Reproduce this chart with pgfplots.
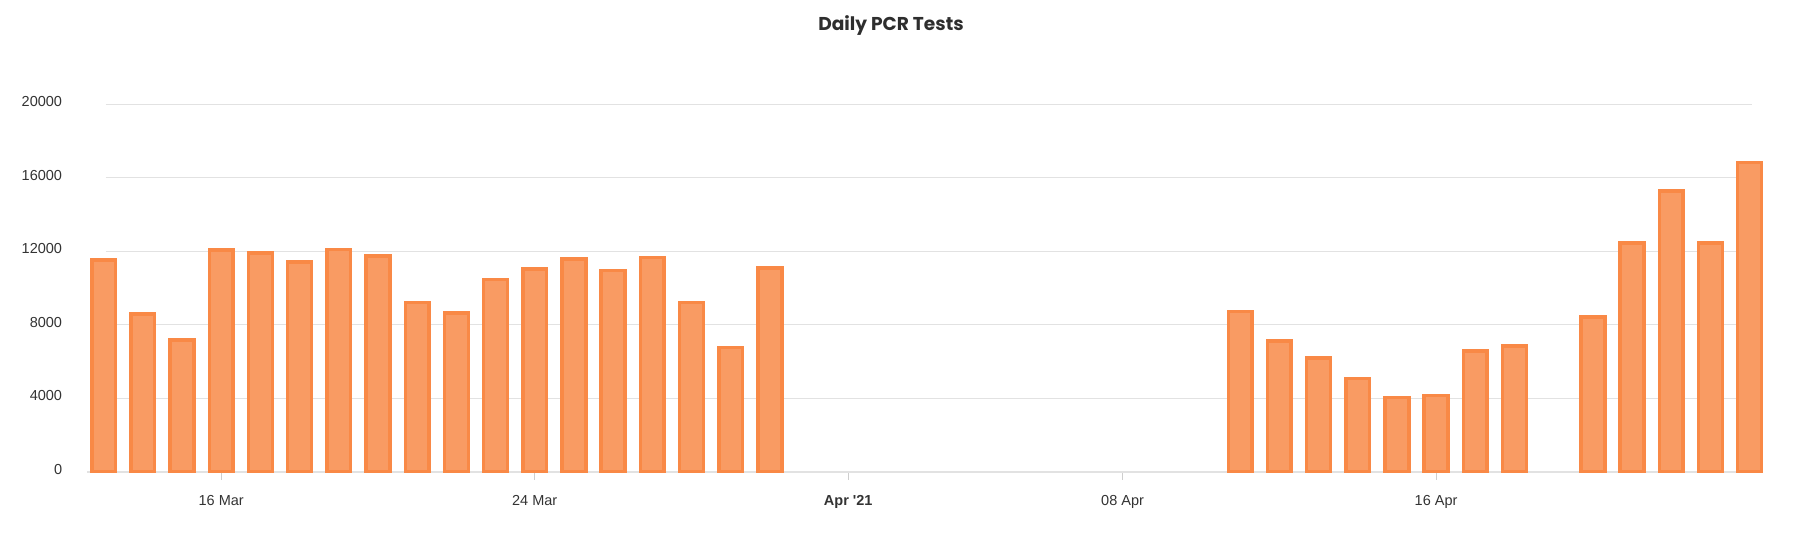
\documentclass[border=0pt]{standalone}
\usepackage{pgfplots}
\pgfplotsset{compat=1.18}
\usepackage{fontspec}
\setmainfont{Liberation Sans}
\newfontfamily\plainsans{Liberation Sans}[Ligatures=TeXOff]
\newfontfamily\poppins{Poppins}
\definecolor{barfill}{RGB}{249,155,99}
\definecolor{barline}{RGB}{249,137,70}
\definecolor{gridc}{RGB}{226,226,226}
\definecolor{txt}{RGB}{51,51,51}
\begin{document}
\begin{tikzpicture}
\useasboundingbox (0,0) rectangle (1798pt,541pt);
\node[font={\poppins\bfseries\fontsize{18.6pt}{22pt}\selectfont}, text=txt!90!black] at (891pt,515pt) {Daily PCR Tests};
\begin{axis}[
  anchor=south west, at={(87pt,69.3pt)},
  scale only axis, width=1676.3pt, height=367.4pt,
  xmin=-0.425, xmax=42.35, ymin=0, ymax=20000,
  axis x line*=bottom, axis y line*=left,
  x axis line style={draw=gridc, line width=2pt, -},
  y axis line style={draw=none},
  ytick={0,4000,8000,12000,16000,20000},
  scaled y ticks=false,
  yticklabel style={/pgf/number format/set thousands separator={}, /pgf/number format/assume math mode=true, text=txt, xshift=-13.4pt, yshift=2.5pt},
  ytick style={draw=none},
  xtick={3,11,19,26,34},
  xticklabels={16 Mar,24 Mar,{\plainsans\bfseries Apr '21},08 Apr,16 Apr},
  xticklabel style={text=txt, yshift=-11.7pt},
  x tick style={draw=gridc!80!gray, line width=1pt},
  major tick length=8pt, tick align=outside,
  ticklabel style={font=\fontsize{14.5pt}{16pt}\selectfont},
  clip=false,
]
\pgfplotsinvokeforeach{4000,8000,12000,16000,20000}{
  \draw[gridc, line width=1pt] (axis cs:0.05,#1) -- (axis cs:42.05,#1);
}
\addplot[ybar, bar width=23.8pt, fill=barfill, draw=barline, line width=3.5pt] coordinates {
(0,11520) (1,8580) (2,7160) (3,12080) (4,11910) (5,11410) (6,12100) (7,11730)
(8,9200) (9,8640) (10,10470) (11,11030) (12,11580) (13,10960) (14,11670) (15,9220)
(16,6750) (17,11090)
(29,8710) (30,7120) (31,6200) (32,5080) (33,4050) (34,4140) (35,6580) (36,6840)
(38,8430) (39,12460) (40,15270) (41,12460) (42,16840)
};
\end{axis}
\end{tikzpicture}
\end{document}
